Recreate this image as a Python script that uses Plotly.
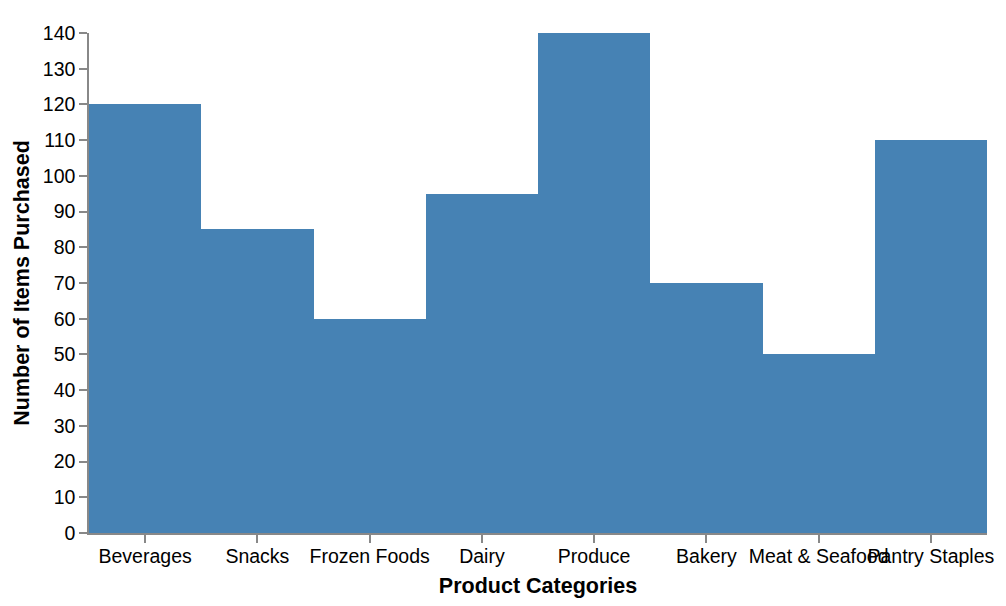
import plotly.graph_objects as go

categories = ["Beverages", "Snacks", "Frozen Foods", "Dairy", "Produce",
              "Bakery", "Meat & Seafood", "Pantry Staples"]
items_purchased = [120, 85, 60, 95, 140, 70, 50, 110]
y_ticks = list(range(0, 141, 10))

FONT = "Liberation Sans, Arial, Helvetica, sans-serif"

fig = go.Figure(
    go.Bar(
        x=categories,
        y=items_purchased,
        marker=dict(color="#4682b4", line=dict(width=0)),
    )
)

fig.update_layout(
    width=1006,
    height=606,
    margin=dict(l=89, r=19, t=33, b=73, autoexpand=False),
    paper_bgcolor="white",
    plot_bgcolor="white",
    bargap=0,
    showlegend=False,
    font=dict(family=FONT, color="black"),
)

fig.update_xaxes(
    type="category",
    automargin=False,
    tickangle=0,
    showline=True,
    linecolor="#888",
    linewidth=1.5,
    ticks="outside",
    ticklen=8,
    tickwidth=1.5,
    tickcolor="#888",
    ticklabelstandoff=-3,
    tickfont=dict(size=19.5, family=FONT, color="black"),
    showgrid=False,
    zeroline=False,
    title=dict(text="<b>Product Categories</b>", font=dict(size=21.5, family=FONT, color="black"), standoff=12),
)

fig.update_yaxes(
    automargin=False,
    range=[0, 140],
    tickvals=y_ticks,
    showline=True,
    linecolor="#888",
    linewidth=1.5,
    ticks="outside",
    ticklen=8,
    tickwidth=1.5,
    tickcolor="#888",
    tickfont=dict(size=19.5, family=FONT, color="black"),
    showgrid=False,
    zeroline=False,
    title=dict(text="<b>Number of Items Purchased</b>", font=dict(size=21.5, family=FONT, color="black"), standoff=7),
)

fig.write_html("out.html")
